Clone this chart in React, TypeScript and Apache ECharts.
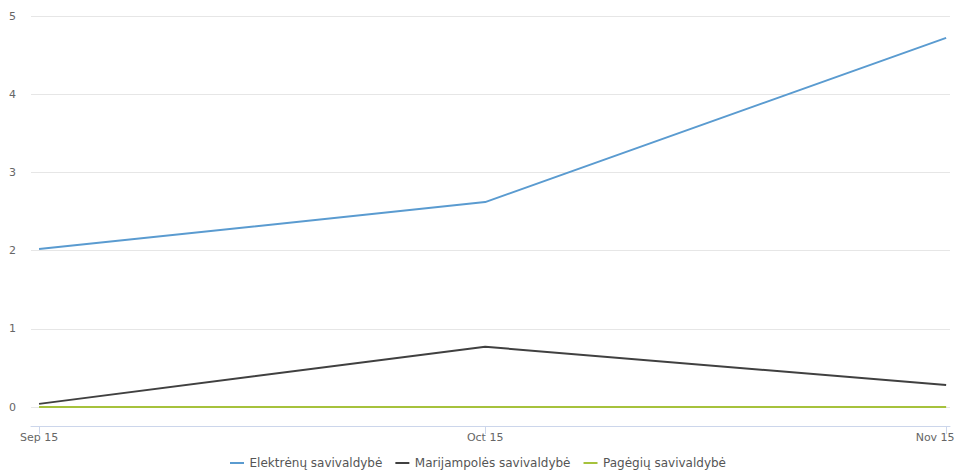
import React, { useEffect, useRef } from "react";
import * as echarts from "echarts";

const categories = ["Sep 15", "Oct 15", "Nov 15"];
const dayOffsets = [0, 30, 61];
const seriesNames = ["Elektrėnų savivaldybė", "Marijampolės savivaldybė", "Pagėgių savivaldybė"];
const elektrenai = [2.02, 2.62, 4.72];
const marijampole = [0.04, 0.77, 0.28];
const pagegiai = [0, 0, 0];
const yTicks = [0, 1, 2, 3, 4, 5];
const colors = ["#5a9bd0", "#404040", "#a6c23c"];

export default function App() {
  const ref = useRef<HTMLDivElement>(null);
  useEffect(() => {
    if (!ref.current) return;
    const chart = echarts.init(ref.current, undefined, { renderer: "svg" });
    const values = [elektrenai, marijampole, pagegiai];
    chart.setOption({
      animation: false,
      color: colors,
      textStyle: { fontFamily: "DejaVu Sans" },
      grid: { left: 31, right: 6, top: 16, bottom: 63, containLabel: false, outerBoundsMode: "none" },
      legend: {
        top: 452,
        left: "center",
        icon: "path://M0,0 L14,0 L14,2 L0,2 Z",
        itemWidth: 15,
        itemHeight: 2,
        itemGap: 13,
        textStyle: { fontSize: 12, color: "#555", fontFamily: "DejaVu Sans" },
        data: seriesNames,
      },
      xAxis: {
        type: "value",
        min: -0.54,
        max: 61.26,
        offset: 19,
        axisLine: { show: true, onZero: false, lineStyle: { color: "#ccd6eb", width: 1 } },
        axisTick: { show: true, customValues: dayOffsets, length: 8, lineStyle: { color: "#ccd6eb" } },
        axisLabel: {
          customValues: dayOffsets,
          formatter: (v: number) => {
            const i = dayOffsets.indexOf(Math.round(v));
            if (i < 0) return "";
            return i === categories.length - 1 ? "{r|" + categories[i] + "}" : categories[i];
          },
          rich: {
            r: { padding: [0, 22, 0, 0], color: "#666", fontSize: 11, fontFamily: "DejaVu Sans" },
          },
          color: "#666",
          fontSize: 11,
          margin: 6,
          fontFamily: "DejaVu Sans",
        },
        splitLine: { show: false },
      },
      yAxis: {
        type: "value",
        min: yTicks[0],
        max: yTicks[yTicks.length - 1],
        interval: 1,
        axisLine: { show: false },
        axisTick: { show: false },
        axisLabel: { color: "#666", fontSize: 11, margin: 15, fontFamily: "DejaVu Sans" },
        splitLine: { lineStyle: { color: "#e6e6e6", width: 1 } },
      },
      series: seriesNames.map((name, si) => ({
        name,
        type: "line",
        symbol: "none",
        lineStyle: { width: 2 },
        data: dayOffsets.map((d, i) => [d, values[si][i]]),
      })),
    });
    return () => chart.dispose();
  }, []);
  return <div ref={ref} style={{ width: 956, height: 470, position: "absolute", left: 0, top: 0 }} />;
}
